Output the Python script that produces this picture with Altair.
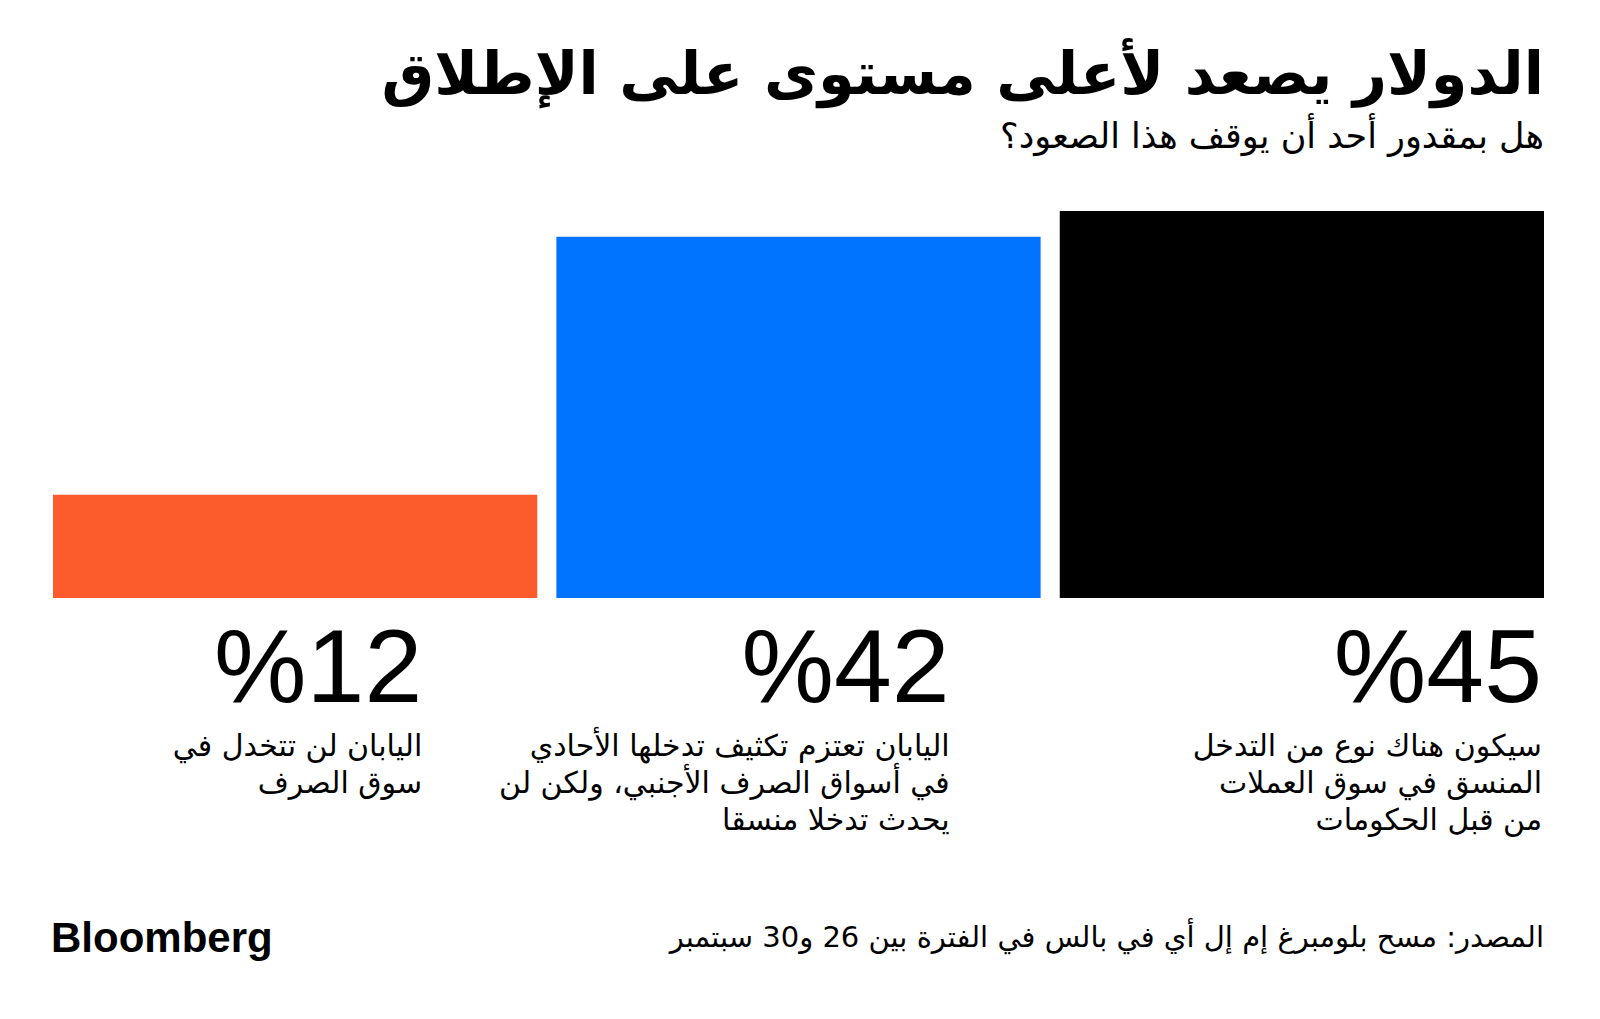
import altair as alt
import pandas as pd

# ---- data ----
categories = ["no_intervention", "japan_unilateral", "coordinated"]
values = [12, 42, 45]
value_labels = ["%12", "%42", "%45"]
descriptions = [
    "اليابان لن تتخدل في\nسوق الصرف",
    "اليابان تعتزم تكثيف تدخلها الأحادي\nفي أسواق الصرف الأجنبي، ولكن لن\nيحدث تدخلا منسقا",
    "سيكون هناك نوع من التدخل\nالمنسق في سوق العملات\nمن قبل الحكومات",
]
TITLE = "الدولار يصعد لأعلى مستوى على الإطلاق"
SUBTITLE = "هل بمقدور أحد أن يوقف هذا الصعود؟"
SOURCE = "المصدر: مسح بلومبرغ إم إل أي في بالس في الفترة بين 26 و30 سبتمبر"
LOGO = "Bloomberg"

# ---- styles / layout ----
colors = ["#FC5B2C", "#0073FF", "#000000"]
label_shift = [-115, -91, -2]  # px from bar right edge
W, H = 1491, 387
PAD = {"left": 53, "top": 211, "right": 56, "bottom": 421}
AR_FONT = "DejaVu Sans"
NUM_FONT = "Liberation Sans"

df = pd.DataFrame({
    "cat": categories,
    "value": values,
    "label": value_labels,
    "desc": descriptions,
})

xscale = alt.Scale(domain=categories, paddingInner=0.038, paddingOuter=0)
color = alt.Color("cat:N", scale=alt.Scale(domain=categories, range=colors), legend=None)

bars = alt.Chart(df).mark_bar().encode(
    x=alt.X("cat:N", sort=categories, axis=None, scale=xscale),
    y=alt.Y("value:Q", axis=None, scale=alt.Scale(domain=[0, 45], nice=False, zero=True)),
    color=color,
)

layers = [bars]
for cat, shift in zip(categories, label_shift):
    base = alt.Chart(df).transform_filter(alt.datum.cat == cat)
    xr = alt.X("cat:N", sort=categories, axis=None, bandPosition=1, scale=xscale)
    layers.append(base.mark_text(
        align="right", baseline="alphabetic", font=NUM_FONT, fontSize=104,
        fontWeight="normal", color="#000000", dy=104, dx=shift,
    ).encode(x=xr, y=alt.value(H), text="label:N"))
    layers.append(base.mark_text(
        align="right", baseline="alphabetic", font=AR_FONT, fontSize=30,
        color="#000000", lineBreak="\n", lineHeight=37, dy=158, dx=shift,
    ).encode(x=xr, y=alt.value(H), text="desc:N"))


def note(txt, xv, yv, size, weight="normal", align="right", font=AR_FONT):
    return alt.Chart(pd.DataFrame({"t": [txt]})).mark_text(
        align=align, baseline="alphabetic", font=font, fontSize=size,
        fontWeight=weight, color="#000000",
    ).encode(text="t:N", x=alt.value(xv), y=alt.value(yv))


layers += [
    note(TITLE, W, -117, 59, weight="bold"),
    note(SUBTITLE, W, -63, 35),
    note(SOURCE, W, 736, 29),
    note(LOGO, -2, 741, 42, weight="bold", align="left", font=NUM_FONT),
]

chart = alt.layer(*layers).properties(
    width=W, height=H,
    padding=PAD,
    autosize=alt.AutoSizeParams(type="none"),
    background="#FFFFFF",
).configure_view(stroke=None)

chart.save("out.html", embed_options={"renderer": "svg", "actions": False})
